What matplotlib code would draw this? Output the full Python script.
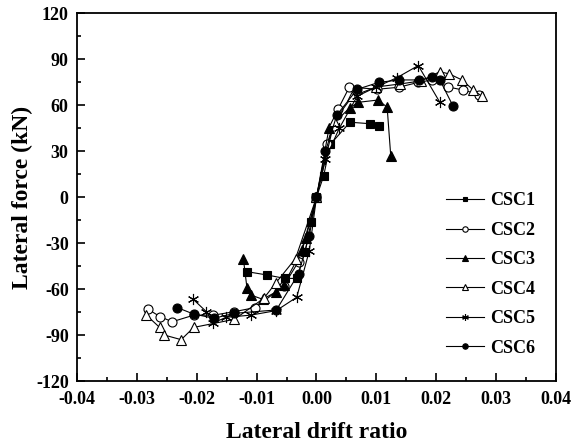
import matplotlib
matplotlib.use("Agg")
import matplotlib.pyplot as plt
from matplotlib.ticker import MultipleLocator

plt.rcParams['font.family'] = ['Liberation Serif', 'DejaVu Serif']
plt.rcParams['font.weight'] = 'bold'
plt.rcParams['axes.unicode_minus'] = False

labels = ["CSC1", "CSC2", "CSC3", "CSC4", "CSC5", "CSC6"]

x1 = [-0.0116, -0.0082, -0.0053, -0.0033, -0.0019, -0.0009, 0.0, 0.0012, 0.0023, 0.0056, 0.0090, 0.0105]
y1 = [-48.6, -50.8, -53.0, -53.0, -35.5, -16.0, 0.0, 14.0, 34.5, 49.0, 48.0, 46.5]

x2 = [-0.0282, -0.0261, -0.0241, -0.0205, -0.0172, -0.0137, -0.0102, -0.0055, -0.0030, 0.0,
      0.0018, 0.0036, 0.0055, 0.0101, 0.0137, 0.0170, 0.0193, 0.0220, 0.0245, 0.0272]
y2 = [-73.0, -78.0, -81.3, -77.0, -77.0, -74.7, -72.0, -58.0, -42.0, 0.0,
      35.0, 57.5, 72.0, 70.5, 71.8, 75.0, 76.6, 72.0, 70.0, 67.0]

x3 = [-0.0122, -0.0116, -0.0110, -0.0090, -0.0067, -0.0055, -0.0024, -0.0018, 0.0,
      0.0021, 0.0056, 0.0070, 0.0103, 0.0118, 0.0124]
y3 = [-40.5, -59.5, -63.8, -66.6, -61.7, -57.3, -34.4, -26.8, 0.0,
      45.3, 58.6, 62.0, 63.5, 58.8, 27.2]

x4 = [-0.0284, -0.0262, -0.0254, -0.0226, -0.0205, -0.0137, -0.0088, -0.0068, -0.0035, 0.0,
      0.0030, 0.0060, 0.0100, 0.0140, 0.0175, 0.0206, 0.0222, 0.0243, 0.0262, 0.0276]
y4 = [-77.0, -85.0, -90.0, -93.0, -85.0, -79.7, -66.0, -56.0, -40.0, 0.0,
      50.0, 66.0, 72.0, 74.0, 76.0, 82.0, 80.5, 76.6, 70.0, 66.0]

x5 = [-0.0206, -0.0184, -0.0172, -0.0151, -0.0110, -0.0067, -0.0033, -0.0012, 0.0,
      0.0015, 0.0038, 0.0068, 0.0100, 0.0134, 0.0170, 0.0206]
y5 = [-66.6, -74.7, -82.0, -78.4, -77.0, -74.0, -65.3, -35.0, 0.0,
      25.0, 45.0, 66.0, 72.0, 78.0, 86.0, 62.0]

x6 = [-0.0233, -0.0205, -0.0171, -0.0137, -0.0067, -0.0030, -0.0012, 0.0,
      0.0015, 0.0034, 0.0068, 0.0104, 0.0138, 0.0172, 0.0193, 0.0206, 0.0228]
y6 = [-72.0, -76.3, -79.0, -75.8, -73.6, -50.0, -25.0, 0.0,
      30.0, 53.7, 70.5, 75.0, 76.6, 76.6, 78.3, 76.6, 59.6]

xs = [x1, x2, x3, x4, x5, x6]
ys = [y1, y2, y3, y4, y5, y6]
markers = ['s', 'o', '^', '^', (6, 2, 0), 'o']
fills = ['black', 'white', 'black', 'white', 'black', 'black']
sizes = [5.5, 6.5, 6.5, 7, 8, 6.5]

fig = plt.figure(figsize=(5.77, 4.45), dpi=100)
ax = fig.add_axes([0.1334, 0.1438, 0.8302, 0.8259])

for x, y, m, fc, ms, lab in zip(xs, ys, markers, fills, sizes, labels):
    ax.plot(x, y, color='black', lw=0.8, marker=m, ms=ms, mfc=fc, mec='black',
            mew=0.8, label=lab)

ax.set_xlim(-0.04, 0.04)
ax.set_ylim(-120, 120)
ax.xaxis.set_major_locator(MultipleLocator(0.01))
ax.xaxis.set_minor_locator(MultipleLocator(0.005))
ax.yaxis.set_major_locator(MultipleLocator(30))
ax.yaxis.set_minor_locator(MultipleLocator(15))
ax.xaxis.set_major_formatter(matplotlib.ticker.FormatStrFormatter('%.2f'))
ax.tick_params(which='both', direction='in', top=False, right=False, labelsize=13)
ax.tick_params(which='major', length=6, width=1.2)
ax.tick_params(which='minor', length=3, width=1.2)
ax.tick_params(axis='x', which='major', pad=7)
ax.tick_params(axis='y', which='major', pad=6)
for s in ax.spines.values():
    s.set_linewidth(1.3)
for t in ax.get_xticklabels() + ax.get_yticklabels():
    t.set_fontweight('bold')

ax.set_xlabel("Lateral drift ratio", fontsize=17, fontweight='bold', labelpad=10)
ax.set_ylabel("Lateral force (kN)", fontsize=17, fontweight='bold', labelpad=2)

leg = ax.legend(loc='lower right', frameon=False, fontsize=13, markerscale=0.6,
                handlelength=2.1, handletextpad=0.35, labelspacing=0.69,
                bbox_to_anchor=(0.99, 0.022))
for t in leg.get_texts():
    t.set_fontweight('bold')

fig.savefig("out.png", dpi=100)
